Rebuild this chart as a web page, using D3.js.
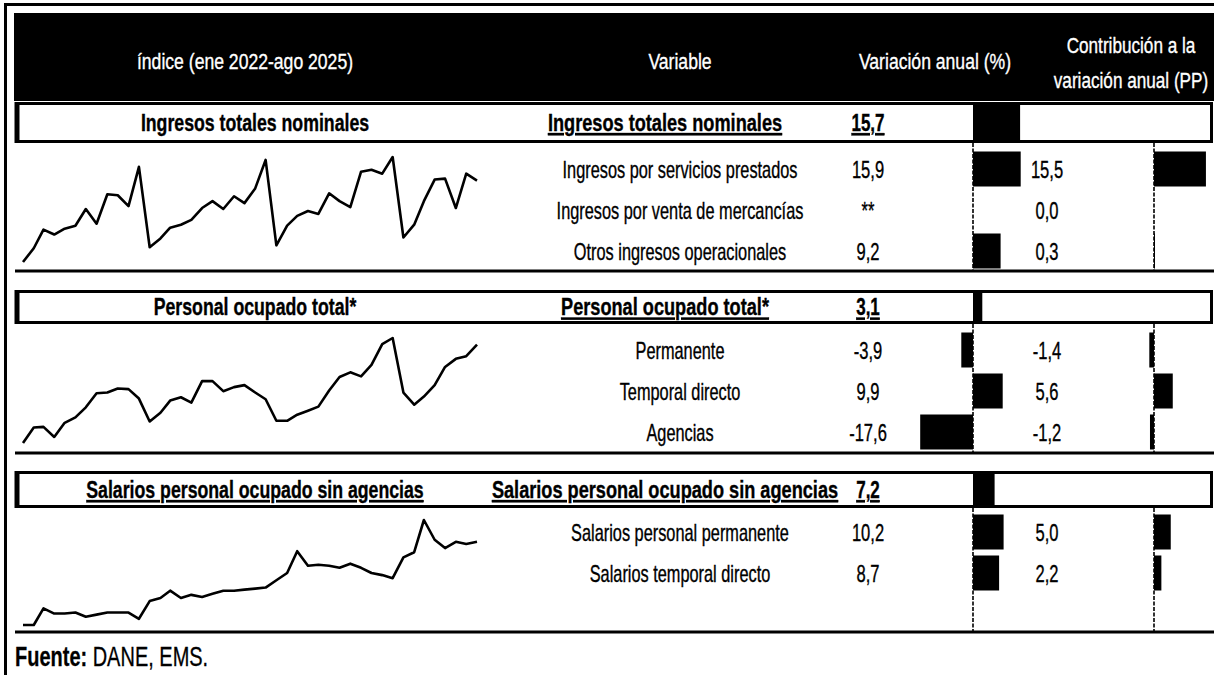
<!DOCTYPE html>
<html>
<head>
<meta charset="utf-8">
<script src="https://cdn.jsdelivr.net/npm/d3@7"></script>
<style>
  body { margin: 0; background: #fff; }
  svg { display: block; font-family: "Liberation Sans", Arial, sans-serif; }
</style>
</head>
<body>
<svg id="chart" width="1214" height="675"></svg>
<script>
// months jan 2022 - aug 2025
const months = d3.timeMonths(new Date(2022, 0, 1), new Date(2025, 8, 1));

// index values
const ingresosIndex = [100.0, 107.0, 116.5, 114.0, 117.0, 118.5, 127.0, 119.5, 134.5, 134.0, 128.5, 148.5,
  107.5, 112.0, 117.5, 119.0, 121.5, 127.5, 131.0, 127.0, 133.5, 130.0, 137.5, 152.0,
  108.5, 118.5, 123.5, 126.0, 124.5, 135.0, 131.0, 128.0, 146.0, 147.0, 145.0, 153.5,
  112.5, 119.0, 131.0, 142.0, 142.5, 127.5, 145.0, 141.5];
const personalIndex = [100.0, 102.3, 102.4, 100.9, 103.0, 103.8, 105.3, 107.4, 107.5, 108.1, 108.0, 106.6,
  103.2, 104.5, 106.3, 106.8, 106.0, 109.2, 109.2, 107.7, 108.3, 108.6, 107.5, 106.5,
  103.3, 103.3, 104.2, 104.8, 105.4, 107.8, 109.8, 110.5, 109.9, 111.6, 114.7, 115.6,
  107.5, 105.7, 106.9, 108.6, 111.3, 112.5, 112.9, 114.6];
const salariosIndex = [100.0, 100.0, 104.8, 103.3, 103.3, 103.6, 102.4, 103.0, 103.6, 103.6, 103.6, 101.8,
  106.9, 107.8, 109.9, 107.8, 108.7, 108.1, 109.0, 109.9, 109.9, 110.2, 110.5, 110.8,
  112.9, 115.0, 121.3, 117.1, 117.4, 117.1, 116.5, 117.7, 116.5, 115.0, 114.4, 113.5,
  119.5, 121.0, 130.3, 124.6, 122.2, 124.0, 123.4, 124.0];

const headerLabels = ["índice (ene 2022-ago 2025)", "Variable", "Variación anual (%)"];
const contribHeader = ["Contribución a la", "variación anual (PP)"];

const groupTitles = ["Ingresos totales nominales", "Personal ocupado total*", "Salarios personal ocupado sin agencias"];
const groupVariation = [15.7, 3.1, 7.2];

const ingresosRows = ["Ingresos por servicios prestados", "Ingresos por venta de mercancías", "Otros ingresos operacionales"];
const ingresosVariation = [15.9, null, 9.2];
const ingresosContribution = [15.5, 0.0, 0.3];

const personalRows = ["Permanente", "Temporal directo", "Agencias"];
const personalVariation = [-3.9, 9.9, -17.6];
const personalContribution = [-1.4, 5.6, -1.2];

const salariosRows = ["Salarios personal permanente", "Salarios temporal directo"];
const salariosVariation = [10.2, 8.7];
const salariosContribution = [5.0, 2.2];

const groups = [
  { title: groupTitles[0], total: groupVariation[0], index: ingresosIndex, rows: ingresosRows, vari: ingresosVariation, contrib: ingresosContribution },
  { title: groupTitles[1], total: groupVariation[1], index: personalIndex, rows: personalRows, vari: personalVariation, contrib: personalContribution },
  { title: groupTitles[2], total: groupVariation[2], index: salariosIndex, rows: salariosRows, vari: salariosVariation, contrib: salariosContribution }
];

// layout of the three blocks
const blocks = [
  { top: 102, head: 41, rows: 149, bottom: 271 },
  { top: 290, head: 34, rows: 330, bottom: 453 },
  { top: 471, head: 37, rows: 512, bottom: 632 }
];
const rowStep = 41;

const es = d3.formatLocale({ decimal: ",", thousands: ".", grouping: [3], currency: ["$", ""], minus: "-" });
const fmt = es.format(".1f");

const svg = d3.select("#chart");

const xVar = d3.scaleLinear().domain([-20, 20]).range([913, 1033]);
const xCon = d3.scaleLinear().domain([-5, 16]).range([1137.25, 1207.6]);
const xTime = d3.scaleTime().domain(d3.extent(months)).range([23, 477]);

// condensed look: squeeze text horizontally
function label(parent, x, y, s, o = {}) {
  const fill = o.fill || "#000";
  const t = parent.append("text")
    .attr("transform", `translate(${x},${y}) scale(${o.sx || 0.72},1)`)
    .attr("dy", "0.36em")
    .attr("text-anchor", o.anchor || "middle")
    .attr("font-size", o.size || 23)
    .attr("fill", fill)
    .attr("stroke", fill).attr("stroke-width", 0.35)
    .text(s);
  if (o.bold) t.attr("font-weight", "bold");
  if (o.underline) t.style("text-decoration", "underline");
  return t;
}

// outer frame
svg.append("line").attr("x1", 5.5).attr("x2", 5.5).attr("y1", 3).attr("y2", 675)
  .attr("stroke", "#000").attr("stroke-width", 3);
svg.append("line").attr("x1", 4).attr("x2", 1214).attr("y1", 4.5).attr("y2", 4.5)
  .attr("stroke", "#000").attr("stroke-width", 3);

// header band
svg.append("rect").attr("x", 14).attr("y", 13).attr("width", 1200).attr("height", 88).attr("fill", "#000");
const hx = [245, 680, 935];
headerLabels.forEach((d, i) => label(svg, hx[i], 61, d, { fill: "#fff", sx: 0.8, size: 22 }));
contribHeader.forEach((d, i) => label(svg, 1131, 45 + i * 35, d, { fill: "#fff", sx: 0.78, size: 22 }));

groups.forEach((g, gi) => {
  const b = blocks[gi];
  const gg = svg.append("g");
  const midHead = b.top + b.head / 2;

  // header row box
  gg.append("rect")
    .attr("x", 16.5).attr("y", b.top + 1.5).attr("width", 1195).attr("height", b.head - 3)
    .attr("fill", "none").attr("stroke", "#000").attr("stroke-width", 3);
  gg.append("line").attr("x1", 17).attr("x2", 17).attr("y1", b.top).attr("y2", b.top + b.head)
    .attr("stroke", "#000").attr("stroke-width", 5);

  label(gg, 255, midHead, g.title, { bold: true, sx: 0.77, underline: gi === 2 });
  label(gg, 665, midHead, g.title, { bold: true, sx: 0.79, underline: true });
  label(gg, 868, midHead, fmt(g.total), { bold: true, sx: 0.74, underline: true });

  // total bar
  gg.append("rect")
    .attr("x", Math.min(xVar(0), xVar(g.total))).attr("y", b.top)
    .attr("width", Math.abs(xVar(g.total) - xVar(0))).attr("height", b.head)
    .attr("fill", "#000");

  // dashed zero lines
  [xVar(0), xCon(0)].forEach(x => {
    gg.append("line").attr("x1", x).attr("x2", x).attr("y1", b.top + b.head).attr("y2", b.bottom)
      .attr("stroke", "#000").attr("stroke-width", 1.6).attr("stroke-dasharray", "4,1.5");
  });

  const rowY = i => b.rows + rowStep * i + rowStep / 2;

  g.rows.forEach((d, i) => label(gg, 680, rowY(i), d, { sx: 0.71 }));
  g.vari.forEach((d, i) => label(gg, 868, rowY(i), d === null ? "**" : fmt(d)));
  g.contrib.forEach((d, i) => label(gg, 1047, rowY(i), fmt(d)));

  gg.selectAll("rect.vbar").data(g.vari).enter().append("rect")
    .attr("class", "vbar")
    .attr("x", d => Math.min(xVar(0), xVar(d || 0)))
    .attr("y", (d, i) => rowY(i) - 18).attr("height", 35)
    .attr("width", d => Math.abs(xVar(d || 0) - xVar(0)))
    .attr("fill", "#000");
  gg.selectAll("rect.cbar").data(g.contrib).enter().append("rect")
    .attr("class", "cbar")
    .attr("x", d => Math.min(xCon(0), xCon(d)))
    .attr("y", (d, i) => rowY(i) - 18).attr("height", 35)
    .attr("width", d => Math.abs(xCon(d) - xCon(0)))
    .attr("fill", "#000");

  // bottom rule
  gg.append("line").attr("x1", 15).attr("x2", 1214).attr("y1", b.bottom).attr("y2", b.bottom)
    .attr("stroke", "#000").attr("stroke-width", 3);

  // sparkline
  const y = d3.scaleLinear().domain(d3.extent(g.index)).range([b.rows + 113, b.rows + 8]);
  const line = d3.line().x((d, i) => xTime(months[i])).y(d => y(d));
  gg.append("path").datum(g.index)
    .attr("d", line).attr("fill", "none").attr("stroke", "#000")
    .attr("stroke-width", 2.6).attr("stroke-linejoin", "round");
});

const src = svg.append("text")
  .attr("transform", "translate(15,666) scale(0.74,1)")
  .attr("font-size", 27).attr("stroke", "#000").attr("stroke-width", 0.3);
src.append("tspan").attr("font-weight", "bold").text("Fuente: ");
src.append("tspan").text("DANE, EMS.");
</script>
</body>
</html>
